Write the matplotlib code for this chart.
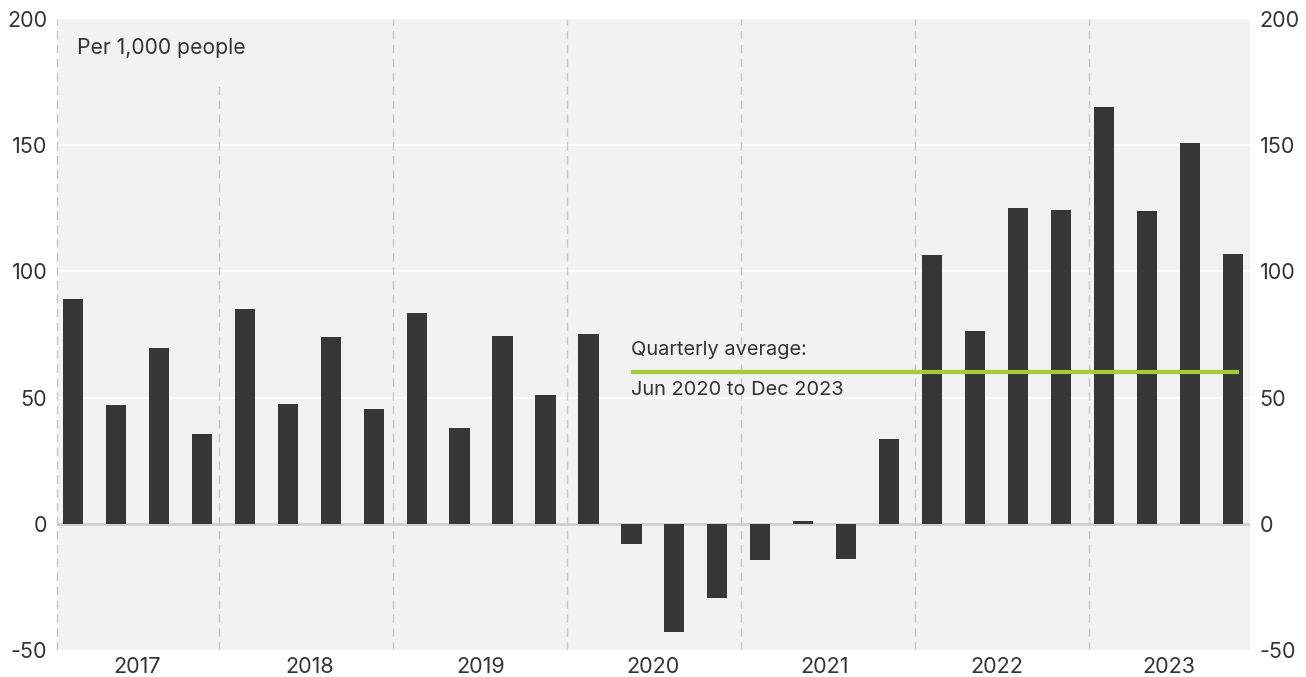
import matplotlib
matplotlib.use("Agg")
import matplotlib.pyplot as plt
import numpy as np

# datos trimestrales, per 1,000 people
years = ["2017", "2018", "2019", "2020", "2021", "2022", "2023"]
values = [
    89, 47, 69.5, 35.5,
    85, 47.5, 74, 45.5,
    83.5, 38, 74.5, 51,
    75, -8, -43, -29.5,
    -14.5, 1, -14, 33.5,
    106.5, 76.5, 125, 124.5,
    165, 124, 151, 107,
]
avg_value = 60
avg_start = 13  # Jun 2020
y_ticks = [-50, 0, 50, 100, 150, 200]

BG = "#f2f2f2"
BAR = "#363636"
TXT = "#333333"
SEP = "#c9c9c9"
GREEN = "#a8c93a"

plt.rcParams["font.family"] = ["Inter", "DejaVu Sans"]

fig = plt.figure(figsize=(13.06, 6.77), dpi=100)
ax = fig.add_axes([57 / 1306, 27 / 677, (1250 - 57) / 1306, (650 - 19) / 677])
ax.set_facecolor(BG)

x = np.arange(len(values))
ax.set_xlim(-0.372, len(values) - 1 + 0.40)
ax.set_ylim(-50, 200)

for v in [50, 100, 150]:
    ax.axhline(v, color="white", lw=1.5, zorder=1)
ax.axhline(0, color="#cfcfcf", lw=2, zorder=1)

# separadores de años (punteados)
seps = [3.4 + 4.05 * k for k in range(6)]
ax.axvline(-0.372, color=SEP, lw=1, ls=(0, (6, 4)), zorder=1, clip_on=False)
for i, s in enumerate(seps):
    top = 176 if i == 0 else 200
    ax.plot([s, s], [-50, top], color=SEP, lw=1, ls=(0, (6, 4)), zorder=1)

ax.bar(x, values, width=0.47, color=BAR, zorder=3)

ax.plot([avg_start, len(values) - 1 + 0.15], [avg_value, avg_value],
        color=GREEN, lw=3, zorder=4, solid_capstyle="butt")
ax.text(avg_start - 0.02, avg_value + 9, "Quarterly average:", fontsize=14.4,
        color=TXT, va="center", ha="left", zorder=5)
ax.text(avg_start - 0.02, avg_value - 7, "Jun 2020 to Dec 2023", fontsize=14.4,
        color=TXT, va="center", ha="left", zorder=5)

ax.text(0.1, 188.5, "Per 1,000 people", fontsize=15.2, color=TXT,
        va="center", ha="left", zorder=5)

for sp in ax.spines.values():
    sp.set_visible(False)

ax.set_yticks(y_ticks)
ax.set_yticklabels([str(t) for t in y_ticks])
ax.tick_params(axis="y", length=0, pad=7, labelsize=15.5, labelcolor=TXT,
               labelleft=True, labelright=True)

ax.set_xticks([1.5 + 4 * k for k in range(len(years))])
ax.set_xticklabels(years)
ax.tick_params(axis="x", length=0, pad=5, labelsize=15.5, labelcolor=TXT)

fig.savefig("out.png", dpi=100, facecolor="white")
